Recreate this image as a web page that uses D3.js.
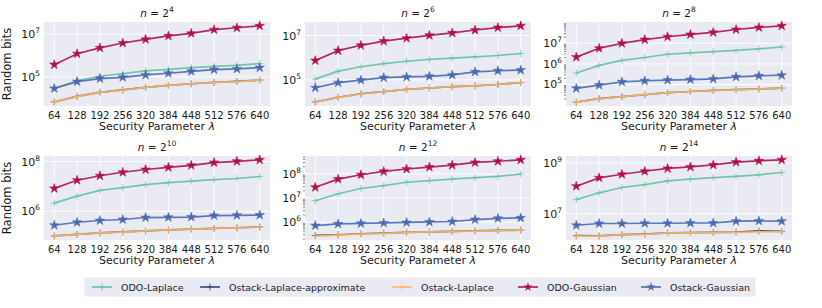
<!DOCTYPE html>
<html>
<head>
<meta charset="utf-8">
<script src="https://cdn.jsdelivr.net/npm/d3@7"></script>
<style>
  body { margin: 0; background: #fff; }
  text { font-family: "DejaVu Sans", sans-serif; fill: #1a1a1a; }
</style>
</head>
<body>
<div id="chart"></div>
<script>
// lambda values (x axis)
const lambdas = [64, 128, 192, 256, 320, 384, 448, 512, 576, 640];

// panel titles: n = 2^k
const exps = [4, 6, 8, 10, 12, 14];

// series values, log10 of random bits, one row per panel
const odoLaplace = [
  [4.47, 4.82, 5.03, 5.15, 5.28, 5.35, 5.43, 5.49, 5.54, 5.62],
  [5.03, 5.39, 5.59, 5.73, 5.84, 5.92, 5.98, 6.04, 6.10, 6.19],
  [5.56, 5.93, 6.17, 6.31, 6.47, 6.54, 6.60, 6.66, 6.73, 6.82],
  [6.33, 6.61, 6.84, 6.95, 7.07, 7.15, 7.21, 7.27, 7.32, 7.40],
  [6.89, 7.18, 7.40, 7.52, 7.66, 7.73, 7.79, 7.85, 7.90, 8.00],
  [7.55, 7.82, 8.03, 8.14, 8.29, 8.36, 8.42, 8.47, 8.53, 8.62]
];
const ostackLaplaceApprox = [
  [3.83, 4.09, 4.28, 4.39, 4.51, 4.60, 4.68, 4.74, 4.79, 4.85],
  [4.00, 4.21, 4.37, 4.47, 4.57, 4.63, 4.69, 4.73, 4.79, 4.88],
  [4.14, 4.31, 4.41, 4.50, 4.60, 4.66, 4.71, 4.75, 4.78, 4.82],
  [5.01, 5.07, 5.13, 5.17, 5.21, 5.25, 5.28, 5.31, 5.34, 5.37],
  [5.45, 5.48, 5.52, 5.55, 5.58, 5.60, 5.62, 5.64, 5.66, 5.67],
  [6.13, 6.12, 6.17, 6.19, 6.24, 6.25, 6.26, 6.27, 6.32, 6.30]
];
const ostackLaplace = [
  [3.82, 4.08, 4.28, 4.38, 4.51, 4.60, 4.68, 4.74, 4.78, 4.85],
  [3.99, 4.21, 4.36, 4.47, 4.57, 4.63, 4.69, 4.73, 4.79, 4.88],
  [4.14, 4.30, 4.41, 4.50, 4.60, 4.66, 4.71, 4.74, 4.78, 4.82],
  [5.00, 5.07, 5.13, 5.16, 5.21, 5.25, 5.28, 5.31, 5.33, 5.37],
  [5.42, 5.46, 5.51, 5.54, 5.58, 5.60, 5.62, 5.63, 5.65, 5.67],
  [6.11, 6.11, 6.17, 6.18, 6.24, 6.24, 6.25, 6.26, 6.28, 6.28]
];
const odoGaussian = [
  [5.57, 6.08, 6.35, 6.58, 6.75, 6.91, 7.03, 7.20, 7.29, 7.38],
  [5.87, 6.32, 6.56, 6.75, 6.88, 7.01, 7.12, 7.25, 7.36, 7.44],
  [6.33, 6.76, 7.00, 7.18, 7.32, 7.43, 7.53, 7.67, 7.77, 7.85],
  [6.92, 7.25, 7.43, 7.57, 7.68, 7.77, 7.85, 7.96, 8.01, 8.07],
  [7.45, 7.79, 7.97, 8.11, 8.21, 8.29, 8.37, 8.48, 8.53, 8.59],
  [8.08, 8.41, 8.55, 8.67, 8.78, 8.84, 8.92, 9.03, 9.08, 9.12]
];
const ostackGaussian = [
  [4.46, 4.78, 4.92, 4.98, 5.09, 5.17, 5.26, 5.34, 5.37, 5.43],
  [4.64, 4.87, 4.99, 5.10, 5.13, 5.16, 5.22, 5.36, 5.41, 5.44],
  [4.81, 4.97, 5.13, 5.18, 5.21, 5.24, 5.27, 5.37, 5.42, 5.45],
  [5.44, 5.56, 5.63, 5.67, 5.75, 5.76, 5.77, 5.83, 5.84, 5.85],
  [5.86, 5.93, 5.95, 5.97, 5.99, 6.01, 6.03, 6.11, 6.16, 6.18],
  [6.54, 6.61, 6.61, 6.62, 6.62, 6.63, 6.63, 6.70, 6.71, 6.70]
];

// y tick exponents shown on each panel
const yTickExps = [[5, 7], [5, 7], [5, 6, 7], [6, 8], [6, 7, 8], [7, 9]];

const seriesNames = ["ODO-Laplace", "Ostack-Laplace-approximate", "Ostack-Laplace", "ODO-Gaussian", "Ostack-Gaussian"];
const seriesData = [odoLaplace, ostackLaplaceApprox, ostackLaplace, odoGaussian, ostackGaussian];
const colors = ["#66c2a5", "#2f4a7a", "#fdb863", "#b0124f", "#4a6bb0"];
const markers = ["plus", "plus", "plus", "star", "star"];

const W = 822, H = 308;
const svg = d3.select("#chart").append("svg")
  .attr("width", W).attr("height", H);

const colX = [44, 305, 566];
const rowY = [22, 156];
const pw = 226, ph = 84;

exps.forEach((k, p) => {
  const col = p % 3, row = Math.floor(p / 3);
  const g = svg.append("g").attr("transform", `translate(${colX[col]},${rowY[row]})`);

  const x = d3.scaleLinear()
    .domain([64 - 576 * 0.05, 640 + 576 * 0.05])
    .range([0, pw]);

  const all = seriesData.flatMap(s => s[p]);
  const lo = d3.min(all), hi = d3.max(all), m = (hi - lo) * 0.05;
  const y = d3.scaleLog()
    .domain([Math.pow(10, lo - m), Math.pow(10, hi + m)])
    .range([ph, 0]);

  g.append("rect").attr("width", pw).attr("height", ph).attr("fill", "#eaeaf2");

  // grid
  g.selectAll(".vg").data(lambdas).enter().append("line")
    .attr("x1", d => x(d)).attr("x2", d => x(d))
    .attr("y1", 0).attr("y2", ph)
    .attr("stroke", "#fff").attr("stroke-width", 0.9);
  g.selectAll(".hg").data(yTickExps[p]).enter().append("line")
    .attr("x1", 0).attr("x2", pw)
    .attr("y1", d => y(Math.pow(10, d))).attr("y2", d => y(Math.pow(10, d)))
    .attr("stroke", "#fff").attr("stroke-width", 0.9);

  // minor ticks when every decade is labelled
  if (yTickExps[p].length === 3) {
    const [d0, d1] = y.domain();
    const minors = [];
    for (let e = Math.floor(Math.log10(d0)); e <= Math.ceil(Math.log10(d1)); e++) {
      for (let j = 2; j <= 9; j++) {
        const v = j * Math.pow(10, e);
        if (v >= d0 && v <= d1) minors.push(v);
      }
    }
    g.selectAll(".mt").data(minors).enter().append("line")
      .attr("x1", -2).attr("x2", 0)
      .attr("y1", d => y(d)).attr("y2", d => y(d))
      .attr("stroke", "#555").attr("stroke-width", 0.7);
  }

  // x tick labels
  g.selectAll(".xt").data(lambdas).enter().append("text")
    .attr("x", d => x(d)).attr("y", ph + 13)
    .attr("text-anchor", "middle")
    .attr("font-size", 10)
    .text(d => d);

  // y tick labels 10^k
  const yt = g.selectAll(".yt").data(yTickExps[p]).enter().append("text")
    .attr("x", -4).attr("y", d => y(Math.pow(10, d)) + 4)
    .attr("text-anchor", "end")
    .attr("font-size", 11);
  yt.append("tspan").text("10");
  yt.append("tspan").attr("font-size", 7.5).attr("dy", -5).text(d => d);

  // title
  const t = g.append("text").attr("x", pw / 2).attr("y", -5)
    .attr("text-anchor", "middle").attr("font-size", 10.5);
  t.append("tspan").attr("font-style", "italic").text("n");
  t.append("tspan").text(" = 2");
  t.append("tspan").attr("font-size", 7.5).attr("dy", -5).text(k);

  // x axis label
  const xl = g.append("text").attr("x", pw / 2).attr("y", ph + 24)
    .attr("text-anchor", "middle").attr("font-size", 11);
  xl.append("tspan").text("Security Parameter ");
  xl.append("tspan").attr("font-style", "italic").text("λ");

  if (col === 0) {
    g.append("text")
      .attr("transform", `translate(${-33},${ph / 2}) rotate(-90)`)
      .attr("text-anchor", "middle").attr("font-size", 11.5)
      .text("Random bits");
  }

  // lines and markers
  const line = d3.line()
    .x((d, i) => x(lambdas[i]))
    .y(d => y(Math.pow(10, d)));
  seriesData.forEach((s, si) => {
    const vals = s[p];
    g.append("path").datum(vals)
      .attr("d", line)
      .attr("fill", "none")
      .attr("stroke", colors[si])
      .attr("stroke-width", 1.7)
      .attr("stroke-opacity", 0.9);
    if (markers[si] === "star") {
      g.selectAll(null).data(vals).enter().append("path")
        .attr("d", d3.symbol(d3.symbolStar, 28))
        .attr("transform", (d, i) => `translate(${x(lambdas[i])},${y(Math.pow(10, d))})`)
        .attr("fill", colors[si])
        .attr("stroke", colors[si]).attr("stroke-width", 0.5);
    } else {
      g.selectAll(null).data(vals).enter().append("path")
        .attr("d", "M-3.5,0H3.5M0,-3.5V3.5")
        .attr("transform", (d, i) => `translate(${x(lambdas[i])},${y(Math.pow(10, d))})`)
        .attr("stroke", colors[si]).attr("stroke-width", 0.9)
        .attr("fill", "none").attr("stroke-opacity", 0.8);
    }
  });
});

// legend
const lg = svg.append("g").attr("transform", "translate(84,277)");
lg.append("rect").attr("width", 672).attr("height", 20)
  .attr("fill", "#eaeaf2").attr("stroke", "#fff").attr("rx", 2);
const legendX = [8, 116, 308, 434, 557];
seriesNames.forEach((name, si) => {
  const it = lg.append("g").attr("transform", `translate(${legendX[si]},10)`);
  it.append("line").attr("x1", 0).attr("x2", 20)
    .attr("stroke", colors[si]).attr("stroke-width", 1.6);
  if (markers[si] === "star") {
    it.append("path").attr("d", d3.symbol(d3.symbolStar, 26))
      .attr("transform", "translate(10,0)").attr("fill", colors[si]);
  } else {
    it.append("path").attr("d", "M6.5,0H13.5M10,-3.5V3.5")
      .attr("stroke", colors[si]).attr("stroke-width", 0.9);
  }
  it.append("text").attr("x", 29).attr("y", 3.5).attr("font-size", 9.5).text(name);
});
</script>
</body>
</html>
